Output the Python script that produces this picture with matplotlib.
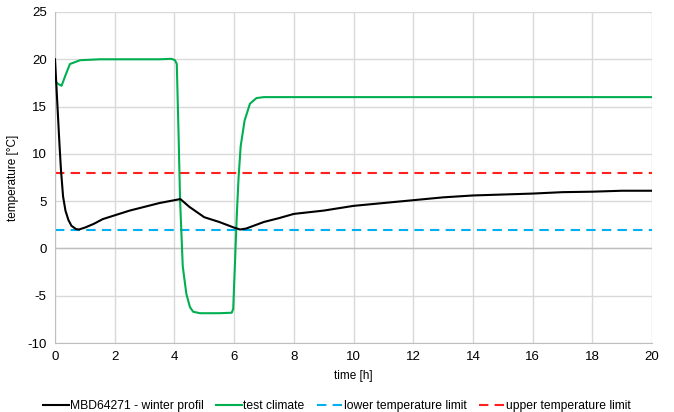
import numpy as np
import matplotlib
matplotlib.use("Agg")
import matplotlib.pyplot as plt

plt.rcParams['font.family'] = ['Liberation Sans', 'DejaVu Sans']
plt.rcParams['axes.unicode_minus'] = False

# measured profile (MBD64271, winter)
t_mbd = [0.0, 0.05, 0.1, 0.15, 0.2, 0.27, 0.35, 0.45, 0.55, 0.7, 0.8, 1.0, 1.3,
         1.6, 2.0, 2.5, 3.0, 3.5, 4.0, 4.2, 4.5, 5.0, 5.5, 6.0, 6.2, 6.4, 7.0,
         7.5, 8.0, 9.0, 10.0, 11.0, 12.0, 13.0, 14.0, 15.0, 16.0, 17.0, 18.0,
         19.0, 20.0]
T_mbd = [20.0, 17.0, 14.0, 11.0, 8.3, 5.5, 4.0, 3.0, 2.4, 2.05, 2.0, 2.2, 2.6,
         3.1, 3.5, 4.0, 4.4, 4.8, 5.1, 5.22, 4.4, 3.3, 2.8, 2.2, 2.0, 2.1, 2.8,
         3.2, 3.65, 4.0, 4.5, 4.8, 5.1, 5.4, 5.6, 5.7, 5.8, 5.95, 6.0, 6.1,
         6.1]

# test climate
t_clim = [0.0, 0.1, 0.22, 0.35, 0.5, 0.84, 1.5, 2.5, 3.5, 3.9, 4.02, 4.08,
          4.14, 4.19, 4.28, 4.4, 4.52, 4.63, 4.86, 5.5, 5.92, 5.97, 6.03, 6.09,
          6.15, 6.22, 6.35, 6.53, 6.75, 7.0, 10.0, 15.0, 20.0]
T_clim = [17.7, 17.4, 17.2, 18.3, 19.5, 19.9, 20.0, 20.0, 20.0, 20.05, 19.9,
          19.5, 12.0, 5.1, -1.9, -4.8, -6.2, -6.7, -6.85, -6.85, -6.8, -6.4,
          -1.5, 3.5, 7.5, 10.8, 13.5, 15.3, 15.9, 16.0, 16.0, 16.0, 16.0]

lower_limit = 2.0
upper_limit = 8.0

fig = plt.figure(figsize=(6.74, 4.12), dpi=100)
ax = fig.add_axes([55/674, 1-343/412, (652-55)/674, (343-12)/412])

ax.plot(t_mbd, T_mbd, color='black', lw=1.5, label='MBD64271 - winter profil', zorder=4)
ax.plot(t_clim, T_clim, color='#00B050', lw=1.5, label='test climate', zorder=3)
ax.plot([0, 20], [lower_limit]*2, color='#00B0F0', lw=1.5, ls=(0, (4.5, 3)),
        label='lower temperature limit', zorder=2)
ax.plot([0, 20], [upper_limit]*2, color='#FF2020', lw=1.5, ls=(0, (4.5, 3)),
        label='upper temperature limit', zorder=2)

ax.set_xlim(0, 20)
ax.set_ylim(-10, 25)
ax.set_xticks(np.arange(0, 21, 2))
ax.set_yticks(np.arange(-10, 26, 5))
ax.grid(True, color='#D9D9D9', lw=1)
ax.axhline(0, color='#BFBFBF', lw=1, zorder=1)
ax.set_axisbelow(True)
for s in ['top', 'right']:
    ax.spines[s].set_visible(False)
for s in ['left', 'bottom']:
    ax.spines[s].set_color('#BFBFBF')
ax.tick_params(length=0, labelsize=9.5, pad=6)

ax.set_xlabel('time [h]', fontsize=8.5, labelpad=5)
ax.set_ylabel('temperature [°C]', fontsize=8.5, labelpad=6)

fig.legend(*ax.get_legend_handles_labels(), loc='lower center',
           bbox_to_anchor=(0.5, -0.027), ncol=4, frameon=False,
           fontsize=8.7, handlelength=2.1, columnspacing=1.0, handletextpad=0.15)

fig.savefig('out.png', dpi=100)
